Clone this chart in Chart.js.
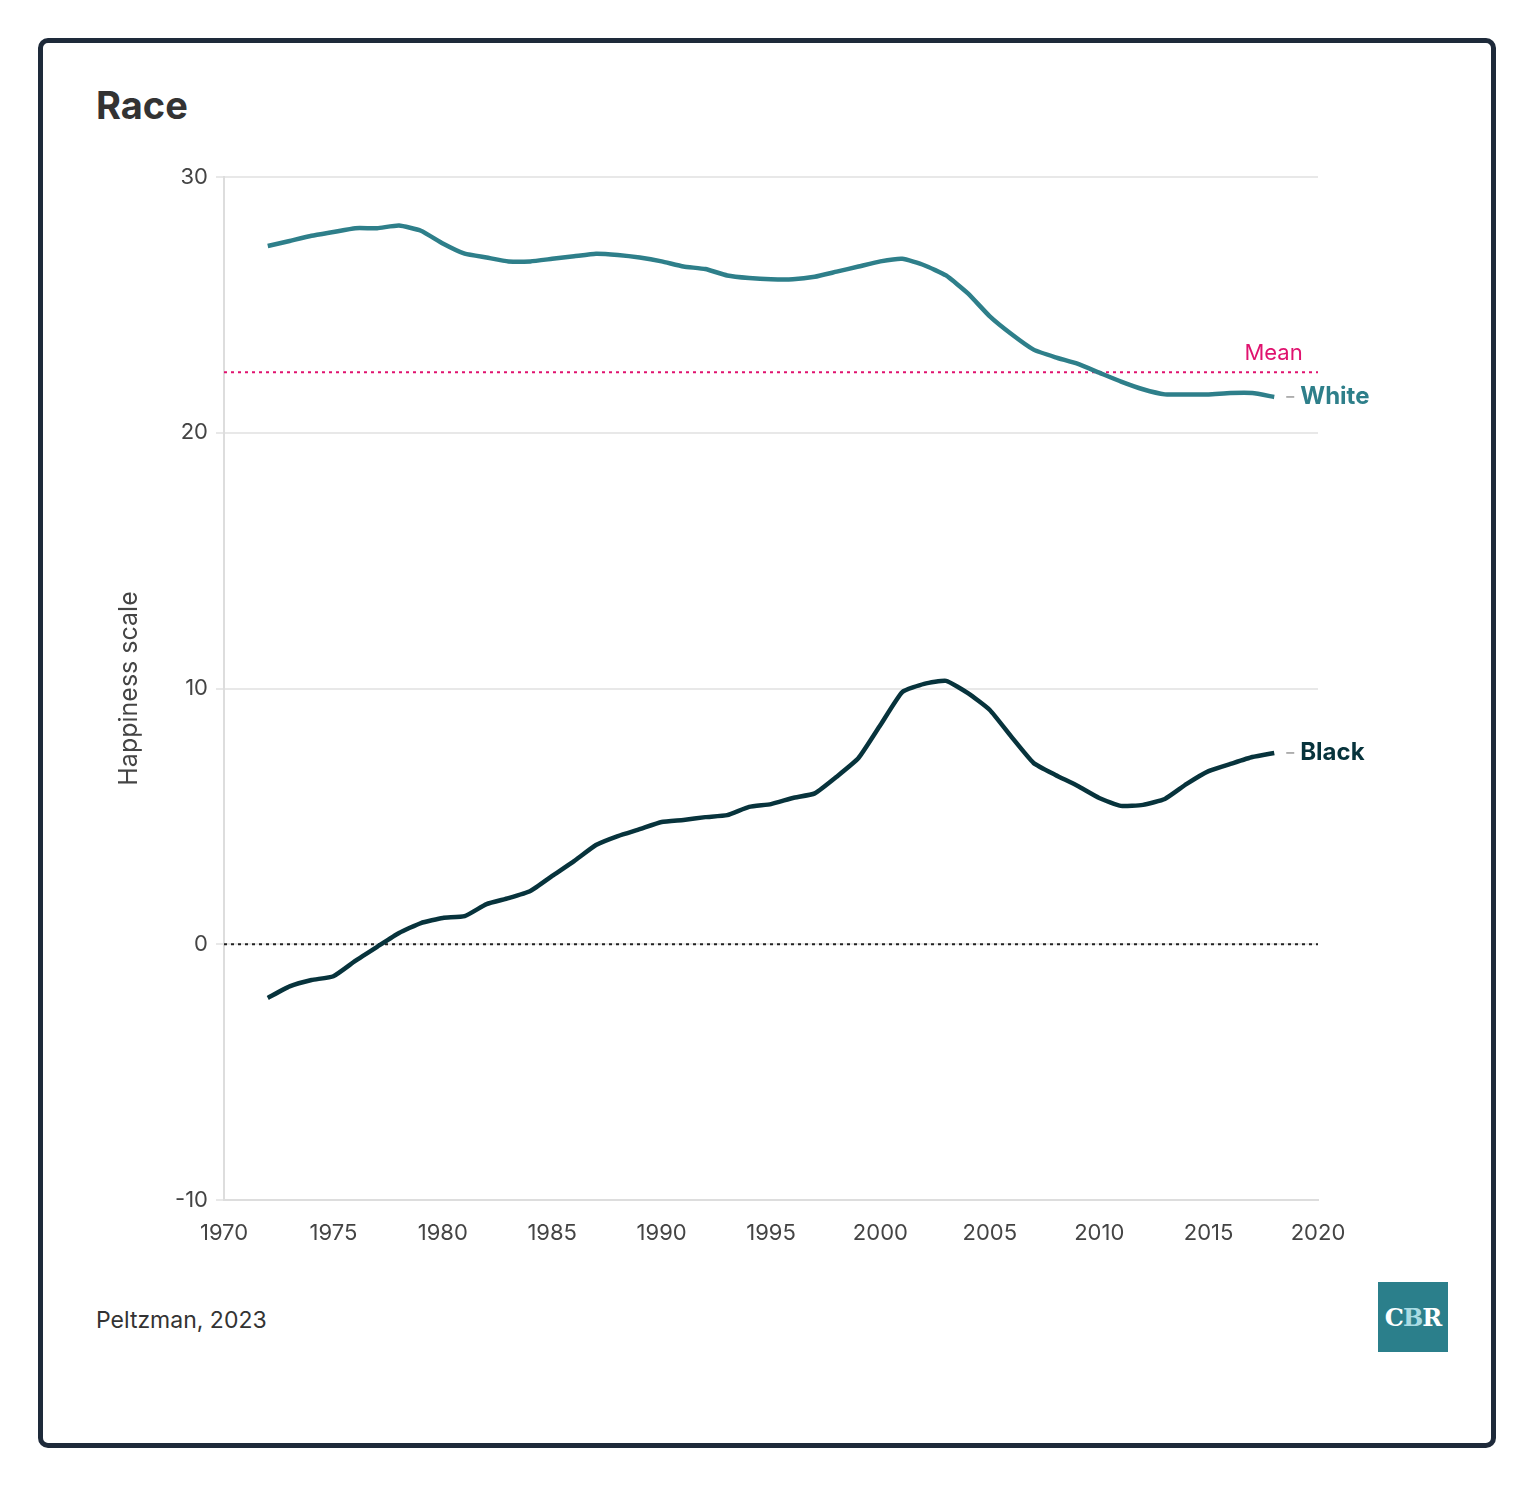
<!DOCTYPE html>
<html>
<head>
<meta charset="utf-8">
<script src="https://cdn.jsdelivr.net/npm/chart.js@4"></script>
<style>
  body { margin: 0; width: 1534px; height: 1486px; background: #fff; font-family: Inter, sans-serif; position: relative; }
  .card { position: absolute; left: 38px; top: 38px; width: 1448px; height: 1400px; border: 5px solid #1e2a3a; border-radius: 10px; }
  h1 { position: absolute; left: 96px; top: 82px; margin: 0; font-size: 38px; font-weight: 700; color: #333; }
  .src { position: absolute; left: 96px; top: 1306px; font-size: 23px; color: #333; }
  .logo { position: absolute; left: 1378px; top: 1282px; width: 70px; height: 70px; background: #2b7f8b; color: #fff; font: bold 24px "DejaVu Serif", serif; display: flex; align-items: center; justify-content: center; letter-spacing: -1px; }
  .logo span { color: #a9dbe3; }
  canvas { position: absolute; left: 0; top: 0; }
</style>
</head>
<body>
<div class="card"></div>
<h1>Race</h1>
<div class="src">Peltzman, 2023</div>
<div class="logo">C<span>B</span>R</div>
<canvas id="chart" width="1534" height="1486"></canvas>
<script>
const years = [];
for (let y = 1972; y <= 2018; y++) years.push(y);

const white = [27.3, 27.5, 27.7, 27.85, 28.0, 28.0, 28.1, 27.9, 27.4, 27.0, 26.85, 26.7, 26.7, 26.8, 26.9, 27.0,
  26.95, 26.85, 26.7, 26.5, 26.4, 26.15, 26.05, 26.0, 26.0, 26.1, 26.3, 26.5, 26.7, 26.8, 26.55, 26.15,
  25.45, 24.55, 23.85, 23.25, 22.95, 22.7, 22.35, 22.0, 21.7, 21.5, 21.5, 21.5, 21.55, 21.55, 21.4];

const black = [-2.1, -1.65, -1.4, -1.25, -0.65, -0.1, 0.44, 0.83, 1.03, 1.1, 1.57, 1.8, 2.08, 2.67, 3.25, 3.88,
  4.23, 4.5, 4.78, 4.86, 4.97, 5.05, 5.37, 5.48, 5.72, 5.9, 6.55, 7.28, 8.57, 9.86, 10.18, 10.3,
  9.82, 9.16, 8.1, 7.09, 6.62, 6.2, 5.72, 5.41, 5.45, 5.68, 6.27, 6.77, 7.05, 7.32, 7.48];

const meanValue = 22.37;
const xRange = [1970, 2020];

const WHITE_COLOR = '#2e7f8a';
const BLACK_COLOR = '#07333c';
const MEAN_COLOR = '#e0136f';

const toPoints = (vals) => years.map((y, i) => ({ x: y, y: vals[i] }));

const endLabels = {
  id: 'endLabels',
  afterDatasetsDraw(chart) {
    const ctx = chart.ctx;
    const xs = chart.scales.x, ys = chart.scales.y;
    const lastX = xs.getPixelForValue(years[years.length - 1]);
    ctx.save();
    ctx.textBaseline = 'middle';
    [['White', white, WHITE_COLOR], ['Black', black, BLACK_COLOR]].forEach(([name, vals, col]) => {
      const py = ys.getPixelForValue(vals[vals.length - 1]);
      ctx.strokeStyle = '#999';
      ctx.lineWidth = 1.5;
      ctx.beginPath();
      ctx.moveTo(lastX + 12, py); ctx.lineTo(lastX + 20, py);
      ctx.stroke();
      ctx.fillStyle = col;
      ctx.font = 'bold 24px Inter, sans-serif';
      ctx.textAlign = 'left';
      ctx.fillText(name, lastX + 26, py);
    });
    ctx.fillStyle = MEAN_COLOR;
    ctx.font = '22px Inter, sans-serif';
    ctx.textAlign = 'right';
    ctx.textBaseline = 'bottom';
    ctx.fillText('Mean', xs.getPixelForValue(2019.3), ys.getPixelForValue(meanValue) - 8);
    ctx.restore();
  }
};

new Chart(document.getElementById('chart'), {
  type: 'line',
  data: {
    datasets: [
      { data: toPoints(white), borderColor: WHITE_COLOR, borderWidth: 4.5, pointRadius: 0, tension: 0.15 },
      { data: toPoints(black), borderColor: BLACK_COLOR, borderWidth: 4.5, pointRadius: 0, tension: 0.15 },
      { data: xRange.map(x => ({ x, y: meanValue })), borderColor: MEAN_COLOR, borderWidth: 2, borderDash: [3, 4], pointRadius: 0 },
      { data: xRange.map(x => ({ x, y: 0 })), borderColor: '#222', borderWidth: 2, borderDash: [3, 4], pointRadius: 0 }
    ]
  },
  options: {
    responsive: false,
    animation: false,
    layout: { padding: { left: 110, right: 216, top: 177, bottom: 236 } },
    plugins: { legend: { display: false }, tooltip: { enabled: false } },
    scales: {
      x: {
        type: 'linear', min: 1970, max: 2020,
        ticks: { stepSize: 5, color: '#444', font: { size: 22, family: 'Inter' }, padding: 12, callback: v => String(v) },
        grid: { display: false, drawTicks: true },
        border: { color: '#ddd', width: 2 },
        afterFit(s) { s.height = 50; }
      },
      y: {
        min: -10, max: 30,
        ticks: { stepSize: 10, color: '#444', font: { size: 22, family: 'Inter' }, padding: 8 },
        grid: { color: '#e8e8e8', lineWidth: 2, tickLength: 8 },
        border: { color: '#ddd', width: 2 },
        title: { display: true, text: 'Happiness scale', color: '#444', font: { size: 25, family: 'Inter' } },
        afterFit(s) { s.width = 114; }
      }
    }
  },
  plugins: [endLabels]
});
</script>
</body>
</html>
